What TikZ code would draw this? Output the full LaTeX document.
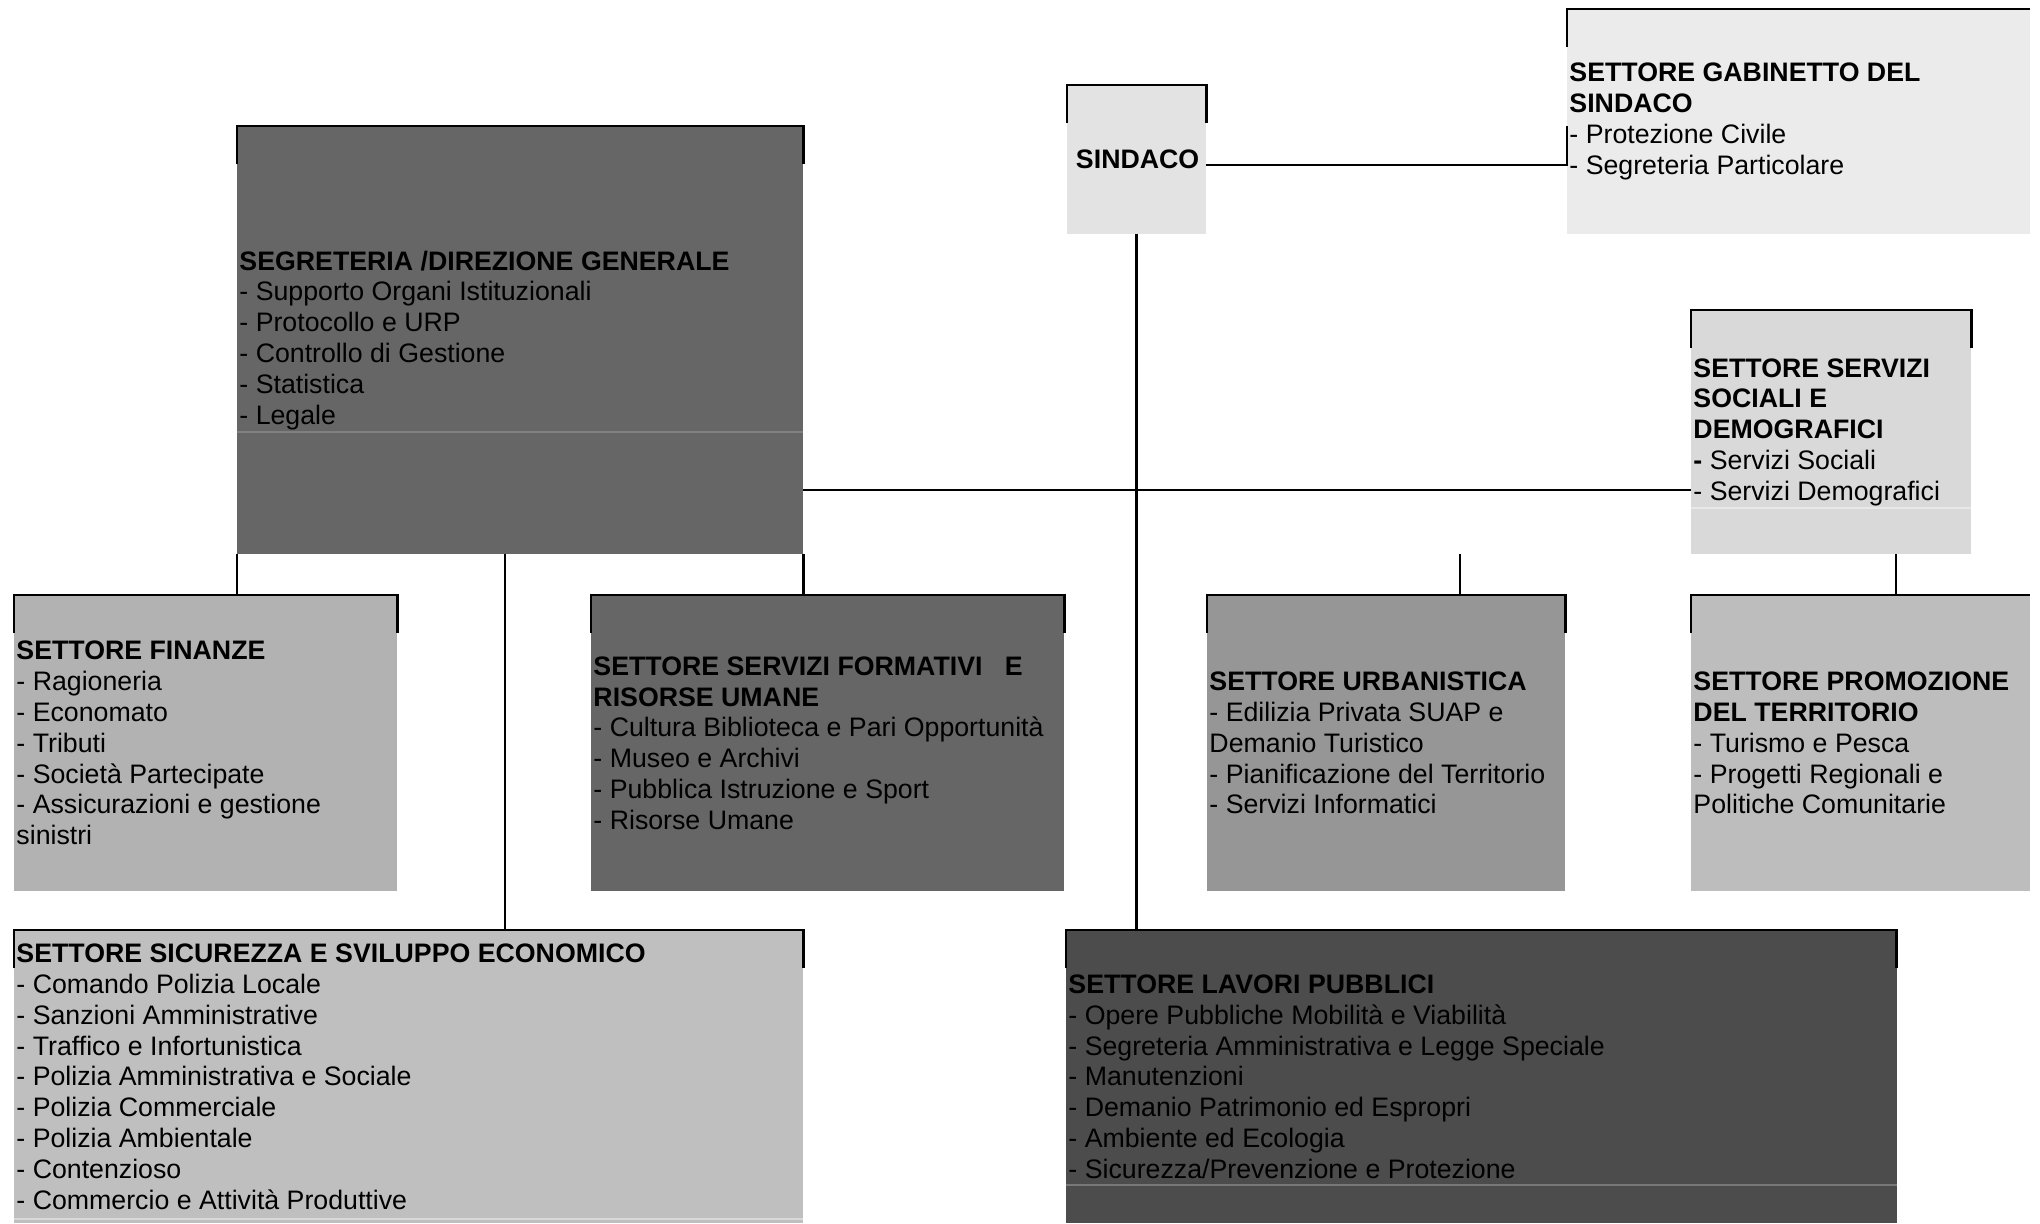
\documentclass[tikz,border=0pt]{standalone}
\usepackage{fontspec}
\setmainfont{Liberation Sans}
\usepackage{tikz}

\begin{document}
\begin{tikzpicture}[x=0.01cm,y=-0.01cm,thick,
  box/.style={anchor=north west,inner sep=0pt,outer sep=0pt},
  txt/.style={anchor=west,align=left,inner sep=0pt,xshift=0.3pt,
    font=\fontsize{7.6}{8.76}\selectfont},
  cell/.style={line width=0.4pt}]
\useasboundingbox (0,0) rectangle (2040,1223);

% caselle
\node[box,fill=black!8,minimum width=4.63cm,minimum height=2.25cm]  (gab)  at (1567,9)   {};
\node[box,fill=black!11,minimum width=1.39cm,minimum height=1.49cm] (sind) at (1067,85)  {};
\node[box,fill=black!60,minimum width=5.66cm,minimum height=4.28cm] (segr) at (237,126)  {};
\node[box,fill=black!15,minimum width=2.80cm,minimum height=2.44cm] (soc)  at (1691,310) {};
\node[box,fill=black!30,minimum width=3.83cm,minimum height=2.96cm] (fin)  at (14,595)   {};
\node[box,fill=black!60,minimum width=4.73cm,minimum height=2.96cm] (form) at (591,595)  {};
\node[box,fill=black!41,minimum width=3.58cm,minimum height=2.96cm] (urb)  at (1207,595) {};
\node[box,fill=black!26,minimum width=3.39cm,minimum height=2.96cm] (prom) at (1691,595) {};
\node[box,fill=black!25,minimum width=7.89cm,minimum height=2.93cm] (sic)  at (14,930)   {};
\node[box,fill=black!70,minimum width=8.30cm,minimum height=2.93cm] (lav)  at (1066,930) {};

% righe sottili delle celle
\draw[cell,black!50] (segr.west |- 0,432) -- (segr.east |- 0,432);
\draw[cell,black!9]  (soc.west |- 0,508) -- (soc.east |- 0,508);
\draw[cell,black!15] (sic.west |- 0,1219) -- (sic.east |- 0,1219);
\draw[cell,black!53] (lav.west |- 0,1185) -- (lav.east |- 0,1185);

% bordi superiori
\foreach \b in {sind,segr,soc,fin,form,urb,sic,lav}
  \draw ([yshift=-0.38cm]\b.north west) |- (\b.north east) -- ++(0,38);
\foreach \b in {gab,prom}
  \draw ([yshift=-0.38cm]\b.north west) |- (\b.north east);

% testi
\node[txt] (gab-t) at (gab.west) {\textbf{SETTORE GABINETTO DEL}\\\textbf{SINDACO}\\- Protezione Civile\\- Segreteria Particolare};
\node[txt,anchor=center,xshift=0pt] (sind-t) at (sind.center) {\textbf{SINDACO}};
\node[txt] (segr-t) at (segr.west) {\textbf{SEGRETERIA /DIREZIONE GENERALE}\\- Supporto Organi Istituzionali\\- Protocollo e URP\\- Controllo di Gestione\\- Statistica\\- Legale};
\node[txt] (soc-t) at (soc.west) {\textbf{SETTORE SERVIZI}\\\textbf{SOCIALI E}\\\textbf{DEMOGRAFICI}\\\textbf{-} Servizi Sociali\\- Servizi Demografici};
\node[txt] (fin-t) at (fin.west) {\textbf{SETTORE FINANZE}\\- Ragioneria\\- Economato\\- Tributi\\- Società Partecipate\\- Assicurazioni e gestione\\sinistri};
\node[txt] (form-t) at (form.west) {\textbf{SETTORE SERVIZI FORMATIVI\ \ \ E}\\\textbf{RISORSE UMANE}\\- Cultura Biblioteca e Pari Opportunità\\- Museo e Archivi\\- Pubblica Istruzione e Sport\\- Risorse Umane};
\node[txt] (urb-t) at (urb.west) {\textbf{SETTORE URBANISTICA}\\- Edilizia Privata SUAP e\\Demanio Turistico\\- Pianificazione del Territorio\\- Servizi Informatici};
\node[txt] (prom-t) at (prom.west) {\textbf{SETTORE PROMOZIONE}\\\textbf{DEL TERRITORIO}\\- Turismo e Pesca\\- Progetti Regionali e\\Politiche Comunitarie};
\node[txt] (sic-t) at (sic.west) {\textbf{SETTORE SICUREZZA E SVILUPPO ECONOMICO}\\- Comando Polizia Locale\\- Sanzioni Amministrative\\- Traffico e Infortunistica\\- Polizia Amministrativa e Sociale\\- Polizia Commerciale\\- Polizia Ambientale\\- Contenzioso\\- Commercio e Attività Produttive};
\node[txt] (lav-t) at (lav.west) {\textbf{SETTORE LAVORI PUBBLICI}\\- Opere Pubbliche Mobilità e Viabilità\\- Segreteria Amministrativa e Legge Speciale\\- Manutenzioni\\- Demanio Patrimonio ed Espropri\\- Ambiente ed Ecologia\\- Sicurezza/Prevenzione e Protezione};

% collegamenti
\draw (sind.east |- 0,165) -| (gab.west |- 0,126);
\draw (sind.south) -- (sind.south |- lav.north);
\draw (segr.east |- 0,490) -- (soc.west |- 0,490);
\draw (segr.south west) -- (segr.south west |- fin.north);
\draw (segr.south east) -- (segr.south east |- form.north);
\draw (segr.south -| 505,0) -- (sic.north -| 505,0);
\draw (segr.south -| 1460,0) -- (urb.north -| 1460,0);
\draw (soc.south -| 1896,0) -- (prom.north -| 1896,0);
\end{tikzpicture}
\end{document}
